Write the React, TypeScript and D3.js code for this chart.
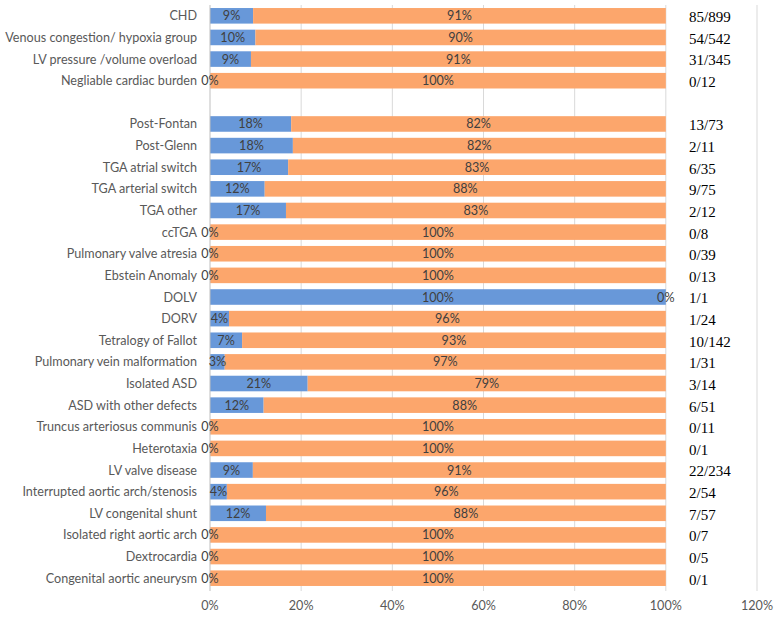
import React, { useMemo } from "react";
import * as d3 from "d3";

// Category rows, top to bottom; "" marks the spacer row between the two groups
const categories: string[] = [
  "CHD",
  "Venous congestion/ hypoxia group",
  "LV pressure /volume overload",
  "Negliable cardiac burden",
  "",
  "Post-Fontan",
  "Post-Glenn",
  "TGA atrial switch",
  "TGA arterial switch",
  "TGA other",
  "ccTGA",
  "Pulmonary valve atresia",
  "Ebstein Anomaly",
  "DOLV",
  "DORV",
  "Tetralogy of Fallot",
  "Pulmonary vein malformation",
  "Isolated ASD",
  "ASD with other defects",
  "Truncus arteriosus communis",
  "Heterotaxia",
  "LV valve disease",
  "Interrupted aortic arch/stenosis",
  "LV congenital shunt",
  "Isolated right aortic arch",
  "Dextrocardia",
  "Congenital aortic aneurysm",
];

// Patients with the outcome (numerator) and total patients (denominator)
const events: (number | null)[] = [
  85, 54, 31, 0, null, 13, 2, 6, 9, 2, 0, 0, 0, 1, 1, 10, 1, 3, 6, 0, 0, 22, 2, 7, 0, 0, 0,
];
const totals: (number | null)[] = [
  899, 542, 345, 12, null, 73, 11, 35, 75, 12, 8, 39, 13, 1, 24, 142, 31, 14, 51, 11, 1, 234, 54, 57, 7, 5, 1,
];

const xTicks: number[] = [0, 0.2, 0.4, 0.6, 0.8, 1.0, 1.2];

const BLUE = "#6898d9";
const ORANGE = "#fca66c";

const W = 776;
const H = 618;
const margin = { top: 5, left: 210, right: 19, bottom: 29 };

export default function App() {
  const rows = useMemo(
    () =>
      categories.map((c, i) => {
        const n = events[i];
        const d = totals[i];
        const share = n != null && d != null ? n / d : null;
        return { c, i, n, d, share };
      }),
    []
  );

  const x = d3
    .scaleLinear()
    .domain([0, 1.2])
    .range([margin.left, W - margin.right]);

  const y = d3
    .scaleBand<string>()
    .domain(rows.map((r) => String(r.i)))
    .range([margin.top, H - margin.bottom])
    .paddingInner(0.28)
    .paddingOuter(0.14);

  const fmtTick = d3.format(".0%");
  const bw = y.bandwidth();
  const labelFont = "Lato, 'Open Sans', sans-serif";

  return (
    <div style={{ position: "absolute", left: 0, top: 0 }}>
      <svg width={W} height={H} style={{ display: "block", background: "#fff" }}>
        {/* vertical gridlines */}
        {xTicks.slice(1).map((t) => (
          <line
            key={t}
            x1={x(t)}
            x2={x(t)}
            y1={margin.top}
            y2={H - margin.bottom + 2}
            stroke="#d9d9d9"
            strokeWidth={1}
          />
        ))}

        {/* stacked bars */}
        {rows.map((r) => {
          if (r.share == null) return null;
          const yy = y(String(r.i))!;
          const xb = x(r.share);
          return (
            <g key={r.i}>
              <rect x={x(0)} y={yy} width={xb - x(0)} height={bw} fill={BLUE} />
              <rect x={xb} y={yy} width={x(1) - xb} height={bw} fill={ORANGE} />
            </g>
          );
        })}

        {/* left axis line */}
        <line
          x1={x(0)}
          x2={x(0)}
          y1={margin.top}
          y2={H - margin.bottom + 2}
          stroke="#bfbfbf"
          strokeWidth={1}
        />

        {/* segment value labels */}
        {rows.map((r) => {
          if (r.share == null) return null;
          const cy = y(String(r.i))! + bw / 2;
          const bluePct = Math.round(r.share * 100);
          const orangePct = Math.round((1 - r.share) * 100);
          return (
            <g key={"l" + r.i} fontFamily={labelFont} fontSize={12.6} fill="#404040">
              <text x={(x(0) + x(r.share)) / 2} y={cy} dy="0.36em" textAnchor="middle">
                {bluePct}%
              </text>
              <text x={(x(r.share) + x(1)) / 2} y={cy} dy="0.36em" textAnchor="middle">
                {orangePct}%
              </text>
            </g>
          );
        })}

        {/* category labels */}
        {rows.map((r) =>
          r.c ? (
            <text
              key={"c" + r.i}
              x={margin.left - 13}
              y={y(String(r.i))! + bw / 2}
              dy="0.36em"
              textAnchor="end"
              fontFamily={labelFont}
              fontSize={12.6}
              fill="#595959"
            >
              {r.c}
            </text>
          ) : null
        )}

        {/* counts column */}
        {rows.map((r) =>
          r.n != null && r.d != null ? (
            <text
              key={"n" + r.i}
              x={689}
              y={y(String(r.i))! + bw / 2 + 1}
              dy="0.36em"
              fontFamily="'Liberation Serif', 'DejaVu Serif', serif"
              fontSize={15}
              fill="#000"
            >
              {r.n}/{r.d}
            </text>
          ) : null
        )}

        {/* x tick labels */}
        {xTicks.map((t) => (
          <text
            key={"t" + t}
            x={x(t)}
            y={H - 13}
            dy="0.36em"
            textAnchor="middle"
            fontFamily={labelFont}
            fontSize={12.6}
            fill="#595959"
          >
            {fmtTick(t)}
          </text>
        ))}
      </svg>
    </div>
  );
}
